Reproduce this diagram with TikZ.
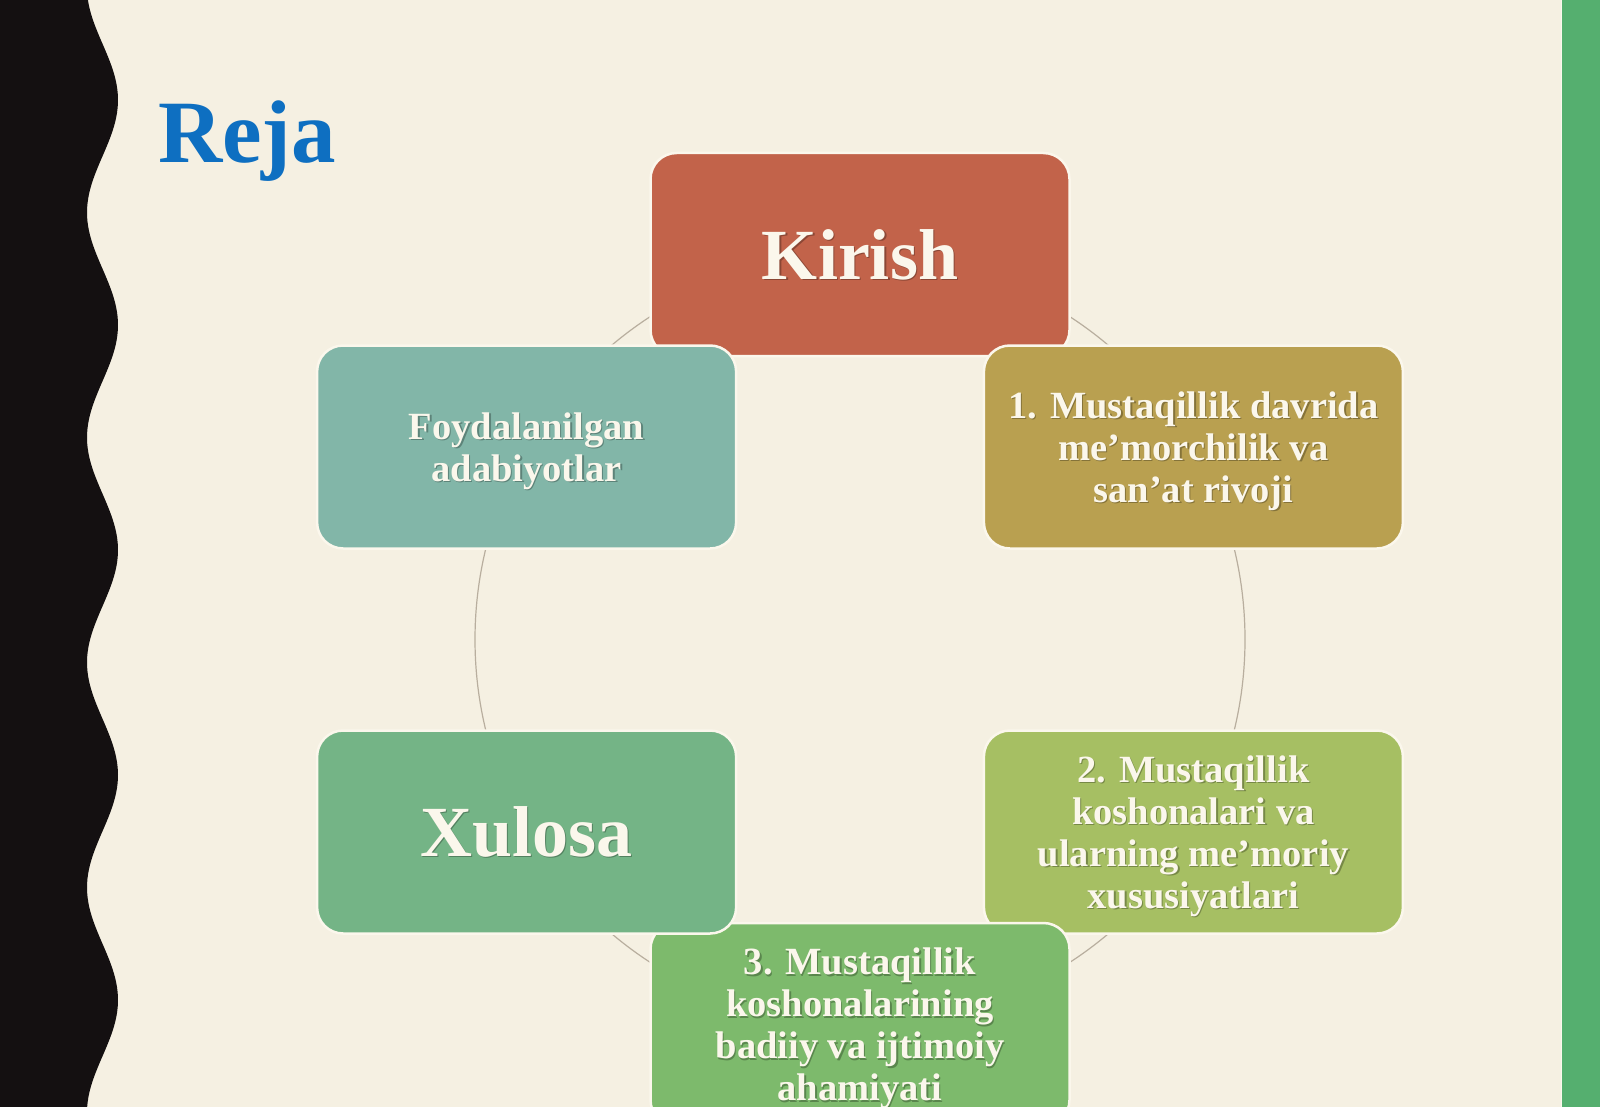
\documentclass[tikz,border=0pt]{standalone}
\usepackage{fontspec}
\setmainfont{Liberation Serif}
\definecolor{bgcream}{HTML}{F5F0E2}
\definecolor{edgeblack}{HTML}{141011}
\definecolor{barGreen}{HTML}{55AF6F}
\definecolor{titleBlue}{HTML}{0E6FC1}
\definecolor{txtCream}{HTML}{FBF7EC}
\definecolor{ringGray}{HTML}{B8AE9E}
\definecolor{cKirish}{HTML}{C2634A}
\definecolor{cOne}{HTML}{B9A050}
\definecolor{cTwo}{HTML}{A6BF63}
\definecolor{cThree}{HTML}{7DBA6C}
\definecolor{cXulosa}{HTML}{74B486}
\definecolor{cFoyda}{HTML}{82B6A8}
\newcommand{\smalltxt}{\fontsize{38.5}{42}\selectfont}
\newcommand{\bigtxt}{\fontsize{72}{80}\selectfont}
\tikzset{
  cbox/.style={draw=txtCream, line width=2.5pt, rounded corners=26pt,
    minimum width=419pt, minimum height=203pt, inner sep=0pt},
  ctext/.style={text=txtCream, align=center, inner sep=0pt},
  ctextshadow/.style={text=black, opacity=0.28, align=center, inner sep=0pt},
  ring/.style={draw=ringGray, line width=1.2pt},
}
% name, position, fill, font, text drop (pt), text
\newcommand{\cyclebox}[6]{%
  \node[cbox, fill=#3] (#1) at (#2) {};
  \node[ctextshadow, font=\bfseries#4] (#1s) at ([xshift=1.3pt,yshift=-#5pt-1.3pt]#1.center) {#6};
  \node[ctext, font=\bfseries#4] (#1t) at ([yshift=-#5pt]#1.center) {#6};
}
\begin{document}
\begin{tikzpicture}[x=1pt,y=-1pt]
\useasboundingbox (0,0) rectangle (1600,1107);
\clip (0,0) rectangle (1600,1107);
% background
\fill[bgcream] (0,0) rectangle (1600,1107);
% wavy black edge
\fill[edgeblack] (0,-10) -- plot[domain=-10:1120, samples=240, variable=\t] ({102.5+15.5*cos(1.6*(\t-100))}, \t) -- (0,1120) -- cycle;
% green bar
\fill[barGreen] (1562,0) rectangle (1600,1107);
\draw[txtCream, line width=1.2pt] (1561.5,0) -- (1561.5,1107);
% title
\node[anchor=base west, inner sep=0pt, text=titleBlue, font=\bfseries\fontsize{89}{89}\selectfont] (title) at (158,163) {Reja};
% ring
\coordinate (ctr) at (860,639.5);
\draw[ring] (ctr) circle (385pt);
% boxes (clockwise drawing order)
\cyclebox{kirish}{860,254.5}{cKirish}{\bigtxt}{0}{Kirish}
\cyclebox{one}{1193.4,447}{cOne}{\smalltxt}{4}{1. Mustaqillik davrida\\ me’morchilik va\\ san’at rivoji}
\cyclebox{two}{1193.4,832}{cTwo}{\smalltxt}{4}{2. Mustaqillik\\ koshonalari va\\ ularning me’moriy\\ xususiyatlari}
\cyclebox{three}{860,1024.5}{cThree}{\smalltxt}{4}{3. Mustaqillik\\ koshonalarining\\ badiiy va ijtimoiy\\ ahamiyati}
\cyclebox{xulosa}{526.6,832}{cXulosa}{\bigtxt}{0}{Xulosa}
\cyclebox{foyda}{526.6,447}{cFoyda}{\smalltxt}{4}{Foydalanilgan\\ adabiyotlar}
\end{tikzpicture}
\end{document}
